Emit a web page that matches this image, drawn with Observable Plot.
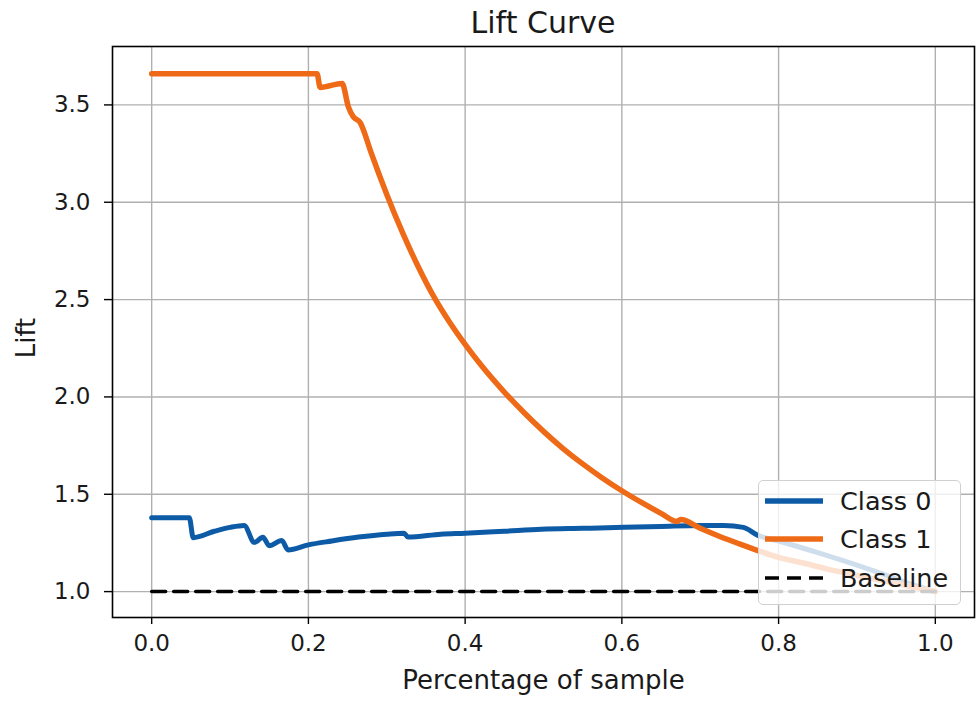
<!DOCTYPE html>
<html>
<head>
<meta charset="utf-8">
<script src="https://cdn.jsdelivr.net/npm/d3@7"></script>
<script src="https://cdn.jsdelivr.net/npm/@observablehq/plot@0.6"></script>
<style>
  body { margin: 0; background: white; }
  #wrap { position: relative; width: 979px; height: 704px; font-family: "DejaVu Sans", sans-serif; color: #1a1a1a; }
  #title { position: absolute; left: 112px; width: 862px; top: 5px; text-align: center; font-size: 30px; line-height: 35px; }
  #chart { position: absolute; left: 0; top: 40px; }
  #legend { position: absolute; left: 758px; top: 480px; width: 201px; height: 123px;
            background: rgba(255,255,255,0.8); border: 1px solid #d0d0d0; border-radius: 5px; }
  .row { position: absolute; left: 6px; height: 30px; display: flex; align-items: center; font-size: 25.5px; }
  .row svg { margin-right: 17px; }
</style>
</head>
<body>
<div id="wrap">
  <div id="title">Lift Curve</div>
  <div id="chart"></div>
  <div id="legend"></div>
</div>
<script>
// ---- data ----
const class0X = [0, 0.048, 0.053, 0.08, 0.10, 0.118, 0.131, 0.142, 0.150, 0.166, 0.174, 0.20, 0.23, 0.264, 0.30, 0.322, 0.327, 0.369, 0.40, 0.45, 0.497, 0.55, 0.603, 0.65, 0.70, 0.730, 0.755, 0.773, 0.80, 0.85, 0.926, 0.96, 1.0];
const class0Y = [1.38, 1.38, 1.277, 1.31, 1.33, 1.34, 1.253, 1.279, 1.236, 1.262, 1.214, 1.24, 1.26, 1.28, 1.295, 1.30, 1.28, 1.295, 1.30, 1.31, 1.32, 1.325, 1.33, 1.335, 1.34, 1.34, 1.33, 1.29, 1.26, 1.20, 1.10, 1.05, 1.0];

const class1X = [0, 0.211, 0.215, 0.243, 0.251, 0.257, 0.266, 0.28, 0.29, 0.30, 0.32, 0.34, 0.36, 0.38, 0.40, 0.42, 0.45, 0.475, 0.50, 0.525, 0.55, 0.575, 0.60, 0.625, 0.65, 0.67, 0.675, 0.70, 0.725, 0.75, 0.77, 0.80, 0.83, 0.86, 0.90, 0.94, 0.97, 1.0];
const class1Y = [3.66, 3.66, 3.59, 3.61, 3.49, 3.44, 3.41, 3.255, 3.145, 3.04, 2.845, 2.67, 2.515, 2.385, 2.27, 2.165, 2.025, 1.92, 1.823, 1.735, 1.656, 1.584, 1.518, 1.458, 1.402, 1.36, 1.37, 1.325, 1.283, 1.245, 1.216, 1.176, 1.148, 1.118, 1.083, 1.05, 1.025, 1.0];

const baselineX = [0, 1];
const baselineY = [1, 1];

const xTicks = [0, 0.2, 0.4, 0.6, 0.8, 1.0];
const yTicks = [1.0, 1.5, 2.0, 2.5, 3.0, 3.5];
const seriesNames = ["Class 0", "Class 1", "Baseline"];
const seriesColors = ["#0d5ba6", "#ef6a17", "#000000"];

const c0 = class0X.map((x, i) => ({x, y: class0Y[i]}));
const c1 = class1X.map((x, i) => ({x, y: class1Y[i]}));
const bl = baselineX.map((x, i) => ({x, y: baselineY[i]}));

const fmt = d3.format(".1f");
const plot = Plot.plot({
  width: 979, height: 664,
  marginTop: 6, marginLeft: 112, marginRight: 5, marginBottom: 87,
  x: {domain: [-0.05, 1.05]},
  y: {domain: [0.867, 3.8]},
  style: {fontFamily: "DejaVu Sans, sans-serif", background: "white", color: "#1a1a1a"},
  marks: [
    Plot.gridX(xTicks, {stroke: "#b0b0b0", strokeOpacity: 1, strokeWidth: 1.4}),
    Plot.gridY(yTicks, {stroke: "#b0b0b0", strokeOpacity: 1, strokeWidth: 1.4}),
    Plot.line(c0, {x: "x", y: "y", stroke: seriesColors[0], strokeWidth: 5, curve: "monotone-x"}),
    Plot.line(c1, {x: "x", y: "y", stroke: seriesColors[1], strokeWidth: 5.5, curve: "monotone-x"}),
    Plot.line(bl, {x: "x", y: "y", stroke: seriesColors[2], strokeWidth: 3.5, strokeDasharray: "14,8"}),
    Plot.axisX(xTicks, {tickFormat: fmt, tickSize: 7, tickPadding: 10, fontSize: 23, label: null, stroke: "black", strokeWidth: 1.4}),
    Plot.axisY(yTicks, {tickFormat: fmt, tickSize: 8, tickPadding: 14, fontSize: 23, label: null, stroke: "black", strokeWidth: 1.4}),
    Plot.frame({stroke: "black", strokeWidth: 1.6}),
    Plot.text(["Percentage of sample"], {frameAnchor: "bottom", dy: 71, fontSize: 26}),
    Plot.text(["Lift"], {frameAnchor: "left", dx: -86, dy: 6, rotate: -90, textAnchor: "middle", fontSize: 26})
  ]
});
document.getElementById("chart").appendChild(plot);

// legend
const legend = document.getElementById("legend");
const rowTops = [5, 43, 82];
seriesNames.forEach((name, i) => {
  const row = document.createElement("div");
  row.className = "row";
  row.style.top = rowTops[i] + "px";
  const dash = i === 2 ? ' stroke-dasharray="14,8"' : '';
  const sw = i === 2 ? 3.5 : 5.5;
  row.innerHTML = `<svg width="58" height="10"><line x1="0" x2="58" y1="5" y2="5" stroke="${seriesColors[i]}" stroke-width="${sw}"${dash}/></svg><span>${name}</span>`;
  legend.appendChild(row);
});
</script>
</body>
</html>
